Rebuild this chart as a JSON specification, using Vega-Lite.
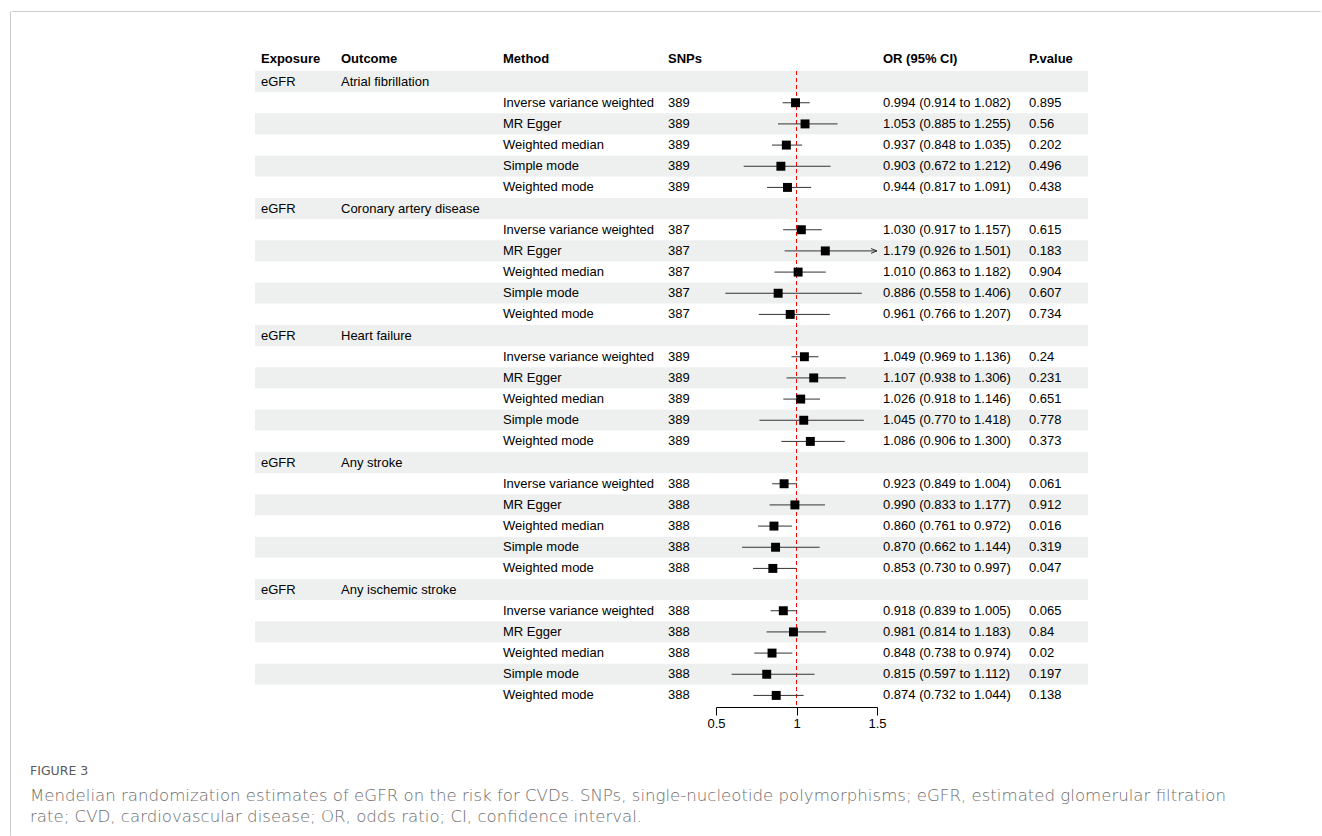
{
  "$schema": "https://vega.github.io/schema/vega-lite/v6.json",
  "padding": {"left": 9, "top": 10, "right": 0, "bottom": 0},
  "background": "#ffffff",
  "datasets": {
    "rows": [
      {"row": 1, "exposure": "eGFR", "outcome": "Atrial fibrillation"},
      {"row": 2, "method": "Inverse variance weighted", "snps": "389", "or": 0.994, "lower": 0.914, "upper": 1.082, "ci": "0.994 (0.914 to 1.082)", "p": "0.895"},
      {"row": 3, "method": "MR Egger", "snps": "389", "or": 1.053, "lower": 0.885, "upper": 1.255, "ci": "1.053 (0.885 to 1.255)", "p": "0.56"},
      {"row": 4, "method": "Weighted median", "snps": "389", "or": 0.937, "lower": 0.848, "upper": 1.035, "ci": "0.937 (0.848 to 1.035)", "p": "0.202"},
      {"row": 5, "method": "Simple mode", "snps": "389", "or": 0.903, "lower": 0.672, "upper": 1.212, "ci": "0.903 (0.672 to 1.212)", "p": "0.496"},
      {"row": 6, "method": "Weighted mode", "snps": "389", "or": 0.944, "lower": 0.817, "upper": 1.091, "ci": "0.944 (0.817 to 1.091)", "p": "0.438"},
      {"row": 7, "exposure": "eGFR", "outcome": "Coronary artery disease"},
      {"row": 8, "method": "Inverse variance weighted", "snps": "387", "or": 1.030, "lower": 0.917, "upper": 1.157, "ci": "1.030 (0.917 to 1.157)", "p": "0.615"},
      {"row": 9, "method": "MR Egger", "snps": "387", "or": 1.179, "lower": 0.926, "upper": 1.501, "ci": "1.179 (0.926 to 1.501)", "p": "0.183"},
      {"row": 10, "method": "Weighted median", "snps": "387", "or": 1.010, "lower": 0.863, "upper": 1.182, "ci": "1.010 (0.863 to 1.182)", "p": "0.904"},
      {"row": 11, "method": "Simple mode", "snps": "387", "or": 0.886, "lower": 0.558, "upper": 1.406, "ci": "0.886 (0.558 to 1.406)", "p": "0.607"},
      {"row": 12, "method": "Weighted mode", "snps": "387", "or": 0.961, "lower": 0.766, "upper": 1.207, "ci": "0.961 (0.766 to 1.207)", "p": "0.734"},
      {"row": 13, "exposure": "eGFR", "outcome": "Heart failure"},
      {"row": 14, "method": "Inverse variance weighted", "snps": "389", "or": 1.049, "lower": 0.969, "upper": 1.136, "ci": "1.049 (0.969 to 1.136)", "p": "0.24"},
      {"row": 15, "method": "MR Egger", "snps": "389", "or": 1.107, "lower": 0.938, "upper": 1.306, "ci": "1.107 (0.938 to 1.306)", "p": "0.231"},
      {"row": 16, "method": "Weighted median", "snps": "389", "or": 1.026, "lower": 0.918, "upper": 1.146, "ci": "1.026 (0.918 to 1.146)", "p": "0.651"},
      {"row": 17, "method": "Simple mode", "snps": "389", "or": 1.045, "lower": 0.770, "upper": 1.418, "ci": "1.045 (0.770 to 1.418)", "p": "0.778"},
      {"row": 18, "method": "Weighted mode", "snps": "389", "or": 1.086, "lower": 0.906, "upper": 1.300, "ci": "1.086 (0.906 to 1.300)", "p": "0.373"},
      {"row": 19, "exposure": "eGFR", "outcome": "Any stroke"},
      {"row": 20, "method": "Inverse variance weighted", "snps": "388", "or": 0.923, "lower": 0.849, "upper": 1.004, "ci": "0.923 (0.849 to 1.004)", "p": "0.061"},
      {"row": 21, "method": "MR Egger", "snps": "388", "or": 0.990, "lower": 0.833, "upper": 1.177, "ci": "0.990 (0.833 to 1.177)", "p": "0.912"},
      {"row": 22, "method": "Weighted median", "snps": "388", "or": 0.860, "lower": 0.761, "upper": 0.972, "ci": "0.860 (0.761 to 0.972)", "p": "0.016"},
      {"row": 23, "method": "Simple mode", "snps": "388", "or": 0.870, "lower": 0.662, "upper": 1.144, "ci": "0.870 (0.662 to 1.144)", "p": "0.319"},
      {"row": 24, "method": "Weighted mode", "snps": "388", "or": 0.853, "lower": 0.730, "upper": 0.997, "ci": "0.853 (0.730 to 0.997)", "p": "0.047"},
      {"row": 25, "exposure": "eGFR", "outcome": "Any ischemic stroke"},
      {"row": 26, "method": "Inverse variance weighted", "snps": "388", "or": 0.918, "lower": 0.839, "upper": 1.005, "ci": "0.918 (0.839 to 1.005)", "p": "0.065"},
      {"row": 27, "method": "MR Egger", "snps": "388", "or": 0.981, "lower": 0.814, "upper": 1.183, "ci": "0.981 (0.814 to 1.183)", "p": "0.84"},
      {"row": 28, "method": "Weighted median", "snps": "388", "or": 0.848, "lower": 0.738, "upper": 0.974, "ci": "0.848 (0.738 to 0.974)", "p": "0.02"},
      {"row": 29, "method": "Simple mode", "snps": "388", "or": 0.815, "lower": 0.597, "upper": 1.112, "ci": "0.815 (0.597 to 1.112)", "p": "0.197"},
      {"row": 30, "method": "Weighted mode", "snps": "388", "or": 0.874, "lower": 0.732, "upper": 1.044, "ci": "0.874 (0.732 to 1.044)", "p": "0.138"}
    ]
  },
  "spacing": 0,
  "hconcat": [
    {
      "width": 0.001, "height": 824,
      "view": {"stroke": "#cccccc", "strokeWidth": 1},
      "data": {"values": []},
      "mark": "point",
      "encoding": {}
    },
    {
      "spacing": 40,
      "vconcat": [
        {
          "width": 1308, "height": 0.001,
          "view": {"stroke": "#cccccc", "strokeWidth": 1},
          "data": {"values": []},
          "mark": "point",
          "encoding": {}
        },
        {
          "spacing": 0,
          "bounds": "flush",
          "title": {
            "text": "FIGURE 3",
            "subtitle": [
              "Mendelian randomization estimates of eGFR on the risk for CVDs. SNPs, single-nucleotide polymorphisms; eGFR, estimated glomerular filtration",
              "rate; CVD, cardiovascular disease; OR, odds ratio; CI, confidence interval."
            ],
            "orient": "bottom",
            "anchor": "start",
            "dx": 18,
            "offset": 35,
            "font": "DejaVu Sans",
            "fontSize": 12.5,
            "fontWeight": "normal",
            "color": "#5a5a5a",
            "subtitleFont": "DejaVu Sans",
            "subtitleFontSize": 16.6,
            "subtitleFontWeight": 200,
            "subtitleColor": "#6e6e6e",
            "subtitleLineHeight": 21,
            "subtitlePadding": 10
          },
          "hconcat": [
            {
              "width": 242.5, "height": 635,
              "data": {"values": []},
              "mark": "point",
              "encoding": {}
            },
            {
              "width": 80, "height": 635,
              "title": "Exposure",
              "data": {"name": "rows"},
              "layer": [
                {"mark": {"type": "rect"}, "encoding": {"y": {"field": "row", "type": "ordinal", "axis": null, "scale": {"paddingInner": 0, "paddingOuter": 0}}, "fill": {"condition": {"test": "datum.row % 2 == 1", "value": "#eef0ef"}, "value": "#ffffff"}}},
                {"transform": [{"filter": "datum.exposure != null"}], "mark": {"type": "text", "align": "left", "baseline": "middle", "x": 0, "dx": 6}, "encoding": {"y": {"field": "row", "type": "ordinal"}, "text": {"field": "exposure", "type": "nominal"}}}
              ]
            },
            {
              "width": 162, "height": 635,
              "title": "Outcome",
              "data": {"name": "rows"},
              "layer": [
                {"mark": {"type": "rect"}, "encoding": {"y": {"field": "row", "type": "ordinal", "axis": null, "scale": {"paddingInner": 0, "paddingOuter": 0}}, "fill": {"condition": {"test": "datum.row % 2 == 1", "value": "#eef0ef"}, "value": "#ffffff"}}},
                {"transform": [{"filter": "datum.outcome != null"}], "mark": {"type": "text", "align": "left", "baseline": "middle", "x": 0, "dx": 6}, "encoding": {"y": {"field": "row", "type": "ordinal"}, "text": {"field": "outcome", "type": "nominal"}}}
              ]
            },
            {
              "width": 165, "height": 635,
              "title": "Method",
              "data": {"name": "rows"},
              "layer": [
                {"mark": {"type": "rect"}, "encoding": {"y": {"field": "row", "type": "ordinal", "axis": null, "scale": {"paddingInner": 0, "paddingOuter": 0}}, "fill": {"condition": {"test": "datum.row % 2 == 1", "value": "#eef0ef"}, "value": "#ffffff"}}},
                {"transform": [{"filter": "datum.method != null"}], "mark": {"type": "text", "align": "left", "baseline": "middle", "x": 0, "dx": 6}, "encoding": {"y": {"field": "row", "type": "ordinal"}, "text": {"field": "method", "type": "nominal"}}}
              ]
            },
            {
              "width": 54, "height": 635,
              "title": "SNPs",
              "data": {"name": "rows"},
              "layer": [
                {"mark": {"type": "rect"}, "encoding": {"y": {"field": "row", "type": "ordinal", "axis": null, "scale": {"paddingInner": 0, "paddingOuter": 0}}, "fill": {"condition": {"test": "datum.row % 2 == 1", "value": "#eef0ef"}, "value": "#ffffff"}}},
                {"transform": [{"filter": "datum.snps != null"}], "mark": {"type": "text", "align": "left", "baseline": "middle", "x": 0, "dx": 6}, "encoding": {"y": {"field": "row", "type": "ordinal"}, "text": {"field": "snps", "type": "nominal"}}}
              ]
            },
            {
              "width": 161, "height": 635,
              "title": " ",
              "data": {"name": "rows"},
              "layer": [
                {"mark": {"type": "rect"}, "encoding": {"y": {"field": "row", "type": "ordinal", "axis": null, "scale": {"paddingInner": 0, "paddingOuter": 0}}, "fill": {"condition": {"test": "datum.row % 2 == 1", "value": "#eef0ef"}, "value": "#ffffff"}}},
                {
                  "data": {"values": [{"ref": 1}]},
                  "mark": {"type": "rule", "color": "#ff0000", "strokeWidth": 1, "strokeDash": [4, 3]},
                  "encoding": {"x": {"field": "ref", "type": "quantitative", "scale": {"domain": [0.5, 1.5], "clamp": true, "nice": false, "zero": false},
                    "axis": {"values": [0.5, 1, 1.5], "format": "~g", "title": null, "grid": false, "domainColor": "#000000", "tickColor": "#000000", "tickSize": 8, "labelFontSize": 13, "labelColor": "#000000", "labelFont": "Liberation Sans", "labelPadding": 2, "offset": 1, "labelFlush": false, "labelOverlap": false}}}
                },
                {
                  "transform": [{"filter": "datum.or != null"}],
                  "mark": {"type": "rule", "color": "#333333", "strokeWidth": 1},
                  "encoding": {"x": {"field": "lower", "type": "quantitative"}, "x2": {"field": "upper"}, "y": {"field": "row", "type": "ordinal"}}
                },
                {
                  "transform": [{"filter": "datum.upper > 1.5"}],
                  "mark": {"type": "point", "shape": "M-1,-0.4L0,0L-1,0.4", "filled": false, "stroke": "#333333", "strokeWidth": 1, "size": 144, "opacity": 1},
                  "encoding": {"x": {"field": "upper", "type": "quantitative"}, "y": {"field": "row", "type": "ordinal"}}
                },
                {
                  "transform": [{"filter": "datum.or != null"}],
                  "mark": {"type": "point", "shape": "square", "filled": true, "color": "#000000", "size": 80, "opacity": 1},
                  "encoding": {"x": {"field": "or", "type": "quantitative"}, "y": {"field": "row", "type": "ordinal"}}
                }
              ]
            },
            {
              "width": 146, "height": 635,
              "title": "OR (95% CI)",
              "data": {"name": "rows"},
              "layer": [
                {"mark": {"type": "rect"}, "encoding": {"y": {"field": "row", "type": "ordinal", "axis": null, "scale": {"paddingInner": 0, "paddingOuter": 0}}, "fill": {"condition": {"test": "datum.row % 2 == 1", "value": "#eef0ef"}, "value": "#ffffff"}}},
                {"transform": [{"filter": "datum.ci != null"}], "mark": {"type": "text", "align": "left", "baseline": "middle", "x": 0, "dx": 6}, "encoding": {"y": {"field": "row", "type": "ordinal"}, "text": {"field": "ci", "type": "nominal"}}}
              ]
            },
            {
              "width": 65, "height": 635,
              "title": "P.value",
              "data": {"name": "rows"},
              "layer": [
                {"mark": {"type": "rect"}, "encoding": {"y": {"field": "row", "type": "ordinal", "axis": null, "scale": {"paddingInner": 0, "paddingOuter": 0}}, "fill": {"condition": {"test": "datum.row % 2 == 1", "value": "#eef0ef"}, "value": "#ffffff"}}},
                {"transform": [{"filter": "datum.p != null"}], "mark": {"type": "text", "align": "left", "baseline": "middle", "x": 0, "dx": 6}, "encoding": {"y": {"field": "row", "type": "ordinal"}, "text": {"field": "p", "type": "nominal"}}}
              ]
            }
          ]
        }
      ]
    }
  ],
  "config": {
    "view": {"stroke": null},
    "text": {"font": "Liberation Sans", "fontSize": 13, "color": "#000000"},
    "title": {"anchor": "start", "font": "Liberation Sans", "fontSize": 13, "fontWeight": "bold", "color": "#000000", "offset": 5, "dx": 6}
  }
}
